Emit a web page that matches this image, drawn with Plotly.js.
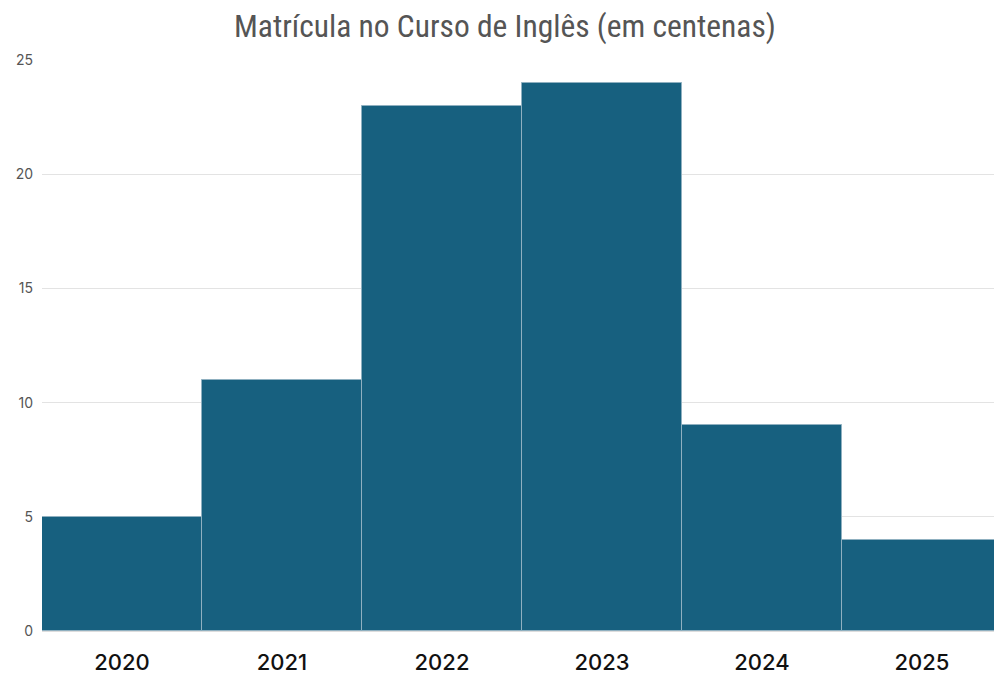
<!DOCTYPE html>
<html><head><meta charset="utf-8">
<script src="https://cdn.plot.ly/plotly-3.0.1.min.js"></script>
<style>body{margin:0;background:#fff}#chart{width:994px;height:677px}</style>
</head><body><div id="chart"></div>
<script>
const years = ["2020","2021","2022","2023","2024","2025"];
const enrollments = [5, 11, 23, 24, 9, 4];
const yTicks = [0, 5, 10, 15, 20, 25];

Plotly.newPlot('chart', [{
  type: 'bar',
  x: years,
  y: enrollments,
  marker: {color: '#17607f', line: {color: '#8fb0c0', width: 1}},
  hoverinfo: 'x+y'
}], {
  width: 994, height: 677,
  margin: {l: 42, r: 0, t: 60, b: 46},
  paper_bgcolor: '#fff', plot_bgcolor: '#fff',
  bargap: 0,
  title: {text: 'Matrícula no Curso de Inglês (em centenas)', x: 0.508, xanchor: 'center', y: 0.962, yanchor: 'middle',
    font: {family: '"Liberation Sans Narrow", "Roboto Condensed", "DejaVu Sans Condensed", sans-serif', size: 31.5, color: '#555'}},
  xaxis: {type: 'category', range: [-0.5, 5.45], tickfont: {family: 'Inter, "Open Sans", sans-serif', size: 22, color: '#111', weight: 500}, showgrid: false,
    showline: true, linecolor: '#ddd', ticks: '', ticklen: 0, ticklabelstandoff: 12, fixedrange: true},
  yaxis: {range: [0, 25], tickvals: yTicks, showgrid: true, gridcolor: '#e3e3e3', zeroline: false,
    tickfont: {family: 'Inter, "Open Sans", sans-serif', size: 14, color: '#555'}, ticks: '', ticklabelstandoff: 8, fixedrange: true},
  showlegend: false
}, {displayModeBar: false});
</script></body></html>
